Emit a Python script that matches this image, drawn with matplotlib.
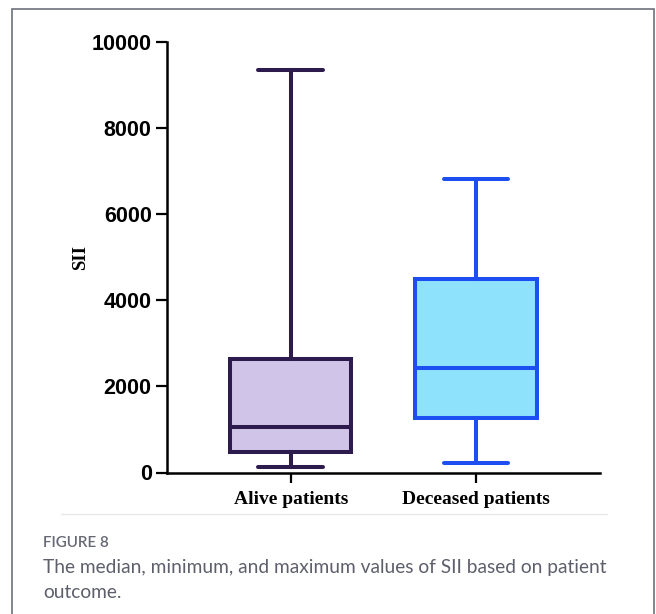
import matplotlib

matplotlib.use("Agg")
import matplotlib.pyplot as plt
from matplotlib.lines import Line2D
from matplotlib.patches import Rectangle

# SII summary per outcome group (min, Q1, median, Q3, max)
groups = ["Alive patients", "Deceased patients"]
sii_min = [135, 227]
sii_q1 = [483, 1258]
sii_median = [1063, 2433]
sii_q3 = [2628, 4492]
sii_max = [9345, 6813]

edge_colors = ["#2d1b4e", "#1c4ef2"]
fill_colors = ["#d0c4e8", "#8ee2fc"]

y_ticks = [0, 2000, 4000, 6000, 8000, 10000]

fig = plt.figure(figsize=(6.56, 6.14), dpi=100)
ax = fig.add_axes([167 / 656, 1 - 472.5 / 614, 433 / 656, 430.8 / 614])

stats = [
    {"whislo": lo, "q1": q1, "med": med, "q3": q3, "whishi": hi, "fliers": []}
    for lo, q1, med, q3, hi in zip(sii_min, sii_q1, sii_median, sii_q3, sii_max)
]
positions = [1, 2]
bp = ax.bxp(stats, positions=positions, widths=0.655, patch_artist=True,
            showfliers=False, capwidths=0.35)

lw = 2.9
for i, col in enumerate(edge_colors):
    bp["boxes"][i].set(facecolor=fill_colors[i], edgecolor=col, linewidth=lw)
    bp["medians"][i].set(color=col, linewidth=lw)
    for w in bp["whiskers"][2 * i:2 * i + 2]:
        w.set(color=col, linewidth=lw)
    for c in bp["caps"][2 * i:2 * i + 2]:
        c.set(color=col, linewidth=lw, solid_capstyle="round")

ax.set_xlim(0.331, 2.67)
ax.set_ylim(0, 10000)
ax.set_yticks(y_ticks)
ax.set_yticklabels([str(t) for t in y_ticks], fontsize=15.5, fontweight="bold",
                   family="Liberation Sans")
ax.set_xticks(positions)
ax.set_xticklabels(groups, fontsize=14, fontweight="bold", family="Liberation Serif")
ax.tick_params(axis="y", length=8, width=1.6, pad=3)
ax.tick_params(axis="x", length=7, width=1.6, pad=6)
ax.set_ylabel("SII", fontsize=13.5, fontweight="bold", family="Liberation Serif", labelpad=2)

for side in ("top", "right"):
    ax.spines[side].set_visible(False)
for side in ("left", "bottom"):
    ax.spines[side].set_linewidth(1.8)

# page frame, separator and caption
fig.add_artist(Rectangle((12 / 656, -0.05), 642 / 656, 1.05 - 9 / 614, transform=fig.transFigure,
                         fill=False, edgecolor="#6e717c", linewidth=1.2))
fig.add_artist(Line2D([61 / 656, 607 / 656], [1 - 514 / 614] * 2, transform=fig.transFigure,
                      color="#e6e7ea", linewidth=1.0))
fig.text(43 / 656, 1 - 543 / 614, "FIGURE 8", fontsize=11, fontweight="semibold",
         color="#666874", family="Lato", va="center")
fig.text(43 / 656, 1 - 567 / 614, "The median, minimum, and maximum values of SII based on patient",
         fontsize=13.75, color="#5d5f6b", family="Lato", va="center")
fig.text(43 / 656, 1 - 592 / 614, "outcome.", fontsize=13.75, color="#5d5f6b", family="Lato",
         va="center")

fig.savefig("out.png", dpi=100)
